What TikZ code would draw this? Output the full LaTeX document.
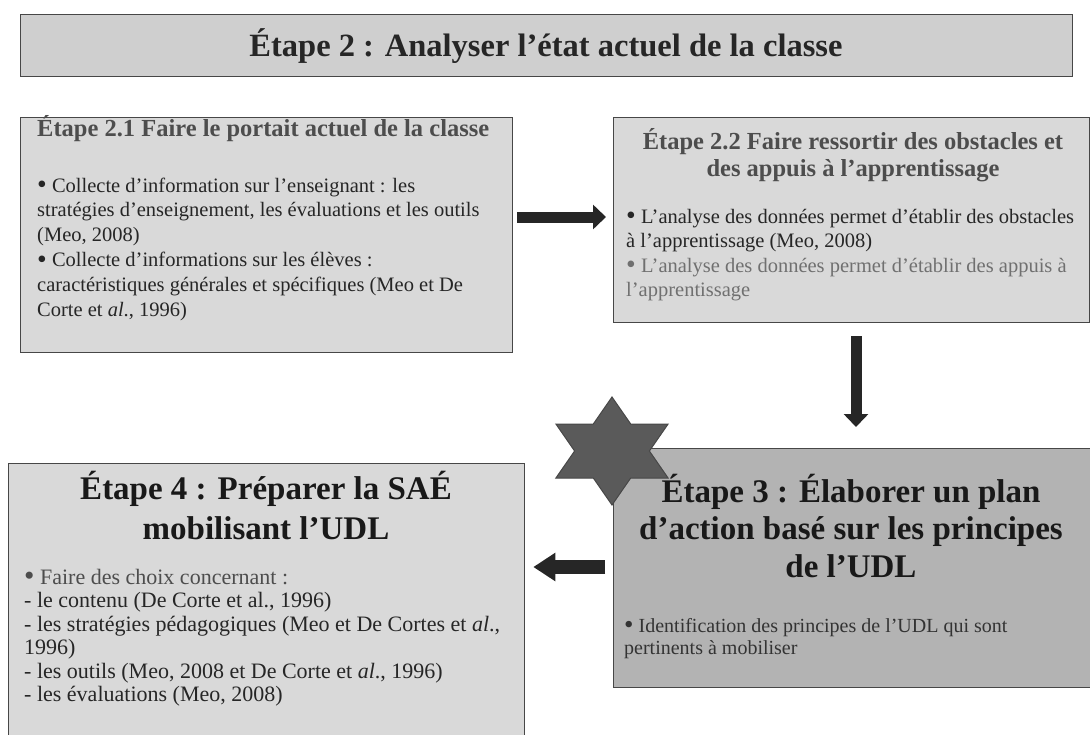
\documentclass[tikz,border=0pt]{standalone}
\usepackage{fontspec}
\setmainfont{Liberation Serif}
\usetikzlibrary{arrows.meta}

\definecolor{bannerfill}{HTML}{CFCFCF}
\definecolor{panelfill}{HTML}{D9D9D9}
\definecolor{darkpanel}{HTML}{B3B3B3}
\definecolor{edgegray}{HTML}{474747}
\definecolor{ink}{HTML}{262626}
\definecolor{softink}{HTML}{4D4D4D}
\definecolor{faintink}{HTML}{707070}
\definecolor{starfill}{HTML}{5A5A5A}

% stacked lines, baseline of the node = baseline of the first line
\newcommand\stackL[2]{\vtop{\baselineskip=#1\lineskiplimit=-100pt\lineskip=0pt\halign{##\hfil\cr#2\crcr}}}
\newcommand\stackC[2]{\vtop{\baselineskip=#1\lineskiplimit=-100pt\lineskip=0pt\halign{\hfil##\hfil\cr#2\crcr}}}
% slightly heavier list bullet, kept centred on the x-height
\newcommand\bul{\raisebox{-0.09em}{\scalebox{1.35}{•}}}

\begin{document}
\begin{tikzpicture}[x=1pt,y=-1pt,
  panel/.style={draw=edgegray, line width=1.3pt, anchor=north west, inner sep=0pt},
  txt/.style={inner sep=0pt, text=ink},
  bigtitle/.style={txt, font=\fontsize{33}{38}\bfseries\selectfont, anchor=base},
  subtitle/.style={txt, font=\fontsize{24.5}{27}\bfseries\selectfont, text=softink},
  body/.style={txt, font=\fontsize{20.5}{24.5}\selectfont, anchor=base west},
  blockarrow/.style={draw=ink, line width=11pt, -{Triangle[width=24pt,length=13pt]}},
  widearrow/.style={draw=ink, line width=14pt, -{Triangle[width=27pt,length=22pt]}},
  starshape/.style={draw=edgegray, line width=1pt, fill=starfill, line join=miter}
]
\useasboundingbox (0,0) rectangle (1090,734);
\clip (0,0) rectangle (1090,734);
\fill[white] (0,0) rectangle (1090,734);

% ---- banner ----
\node[panel, fill=bannerfill, minimum width=1052pt, minimum height=62pt] (banner) at (20,14) {};
\node[txt, font=\fontsize{32.5}{38}\bfseries\selectfont, anchor=base] (bannertxt) at (546,56)
  {Étape 2 : Analyser l’état actuel de la classe};

% ---- step 2.1 ----
\node[panel, fill=panelfill, minimum width=492pt, minimum height=235pt] (b21) at (20,117) {};
\node[subtitle, anchor=base west] (b21t) at (37,136) {Étape 2.1 Faire le portait actuel de la classe};
\node[body] (b21b) at (37,192) {\stackL{24.8pt}{%
  \bul{} Collecte d’information sur l’enseignant : les\cr
  stratégies d’enseignement, les évaluations et les outils\cr
  (Meo, 2008)\cr
  \bul{} Collecte d’informations sur les élèves :\cr
  caractéristiques générales et spécifiques (Meo et De\cr
  Corte et \textit{al}., 1996)}};

% ---- step 2.2 ----
\node[panel, fill=panelfill, minimum width=476pt, minimum height=205pt] (b22) at (613,117) {};
\node[subtitle, anchor=base] (b22t) at (853,149) {\stackC{27pt}{%
  Étape 2.2 Faire ressortir des obstacles et\cr
  des appuis à l’apprentissage}};
\node[body] (b22b) at (626,223) {\stackL{24.5pt}{%
  \bul{} L’analyse des données permet d’établir des obstacles\cr
  à l’apprentissage (Meo, 2008)}};
\node[body, text=faintink] (b22c) at (626,272) {\stackL{24.5pt}{%
  \bul{} L’analyse des données permet d’établir des appuis à\cr
  l’apprentissage}};

% ---- step 3 ----
\node[panel, fill=darkpanel, minimum width=477pt, minimum height=239pt] (b3) at (613,448) {};
\node[bigtitle, text=black!90] (b3t) at (851,502) {\stackC{37.5pt}{%
  Étape 3 : Élaborer un plan\cr
  d’action basé sur les principes\cr
  de l’UDL}};
\node[txt, font=\fontsize{20}{22}\selectfont, anchor=base west, text=black!80] (b3b) at (624,632)
  {\stackL{22pt}{%
  \bul{} Identification des principes de l’UDL qui sont\cr
  pertinents à mobiliser}};

% ---- step 4 ----
\node[panel, fill=panelfill, minimum width=516pt, minimum height=300pt] (b4) at (8,463) {};
\node[bigtitle, text=black!90] (b4t) at (266,499) {\stackC{40pt}{%
  Étape 4 : Préparer la SAÉ\cr
  mobilisant l’UDL}};
\node[body, font=\fontsize{22}{23.5}\selectfont, text=softink] (b4a) at (24,584) {\bul{} Faire des choix concernant :};
\node[body, font=\fontsize{22}{23.5}\selectfont] (b4b) at (24,607.5) {\stackL{23.5pt}{%
  - le contenu (De Corte et al., 1996)\cr
  - les stratégies pédagogiques (Meo et De Cortes et \textit{al}.,\cr
  1996)\cr
  - les outils (Meo, 2008 et De Corte et \textit{al}., 1996)\cr
  - les évaluations (Meo, 2008)}};

% ---- six-pointed star on the corner of step 3 ----
\draw[starshape, shift={(612,451)}]
  (0,-54) -- (18.7,-27) -- (56.1,-27) -- (37.4,0) -- (56.1,27) -- (18.7,27)
  -- (0,54) -- (-18.7,27) -- (-56.1,27) -- (-37.4,0) -- (-56.1,-27) -- (-18.7,-27) -- cycle;

% ---- connectors ----
\coordinate (a1) at (0,217);
\coordinate (a2) at (856,0);
\coordinate (a3) at (0,567);
\draw[blockarrow, shorten <=4pt, shorten >=7pt] (b21.east |- a1) -- (b22.west |- a1);
\draw[blockarrow, shorten <=13pt, shorten >=21pt] (b22.south -| a2) -- (b3.north -| a2);
\draw[widearrow, shorten <=8pt, shorten >=8pt] (b3.west |- a3) -- (b4.east |- a3);
\end{tikzpicture}
\end{document}
